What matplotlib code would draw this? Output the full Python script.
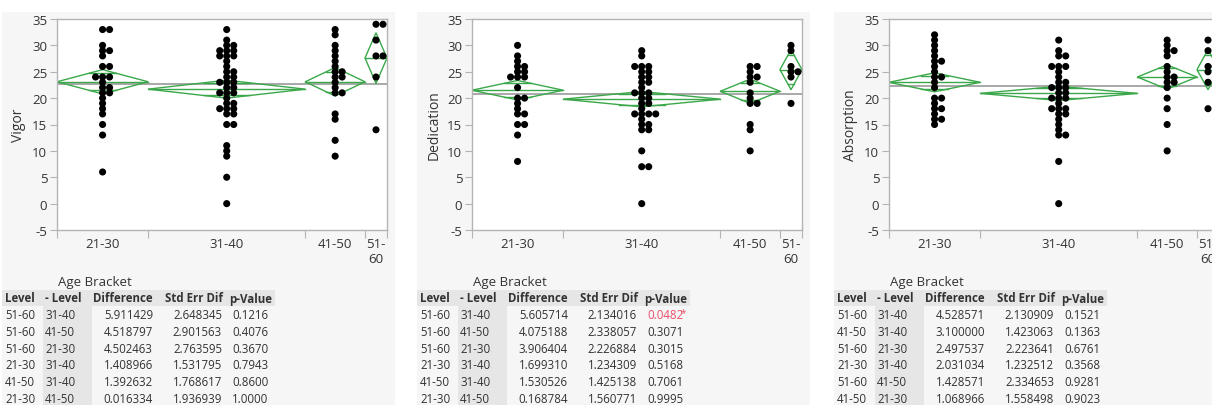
import numpy as np
import matplotlib.pyplot as plt
from matplotlib.patches import Polygon, Rectangle

plt.rcParams['font.family'] = ['Open Sans', 'DejaVu Sans']
plt.rcParams['axes.unicode_minus'] = False

W, H = 1212, 406

# ---- data ----
groups = ['21-30', '31-40', '41-50', '51-60']
group_labels = ['21-30', '31-40', '41-50', '51-\n60']
group_n = [29, 50, 19, 7]

vigor_pts = [
    [33, 33, 30, 29, 29, 28, 26, 26, 24, 24, 24, 23, 22, 22, 21, 21, 20, 19, 18, 17, 15, 13, 6],
    [33, 31, 30, 30, 29, 29, 29, 28, 28, 28, 27, 26, 25, 25, 24, 24, 23, 23, 23, 22, 22,
     21, 21, 21, 20, 19, 19, 18, 18, 18, 17, 17, 15, 15, 11, 10, 9, 5, 0],
    [33, 32, 30, 29, 28, 27, 26, 25, 25, 24, 24, 23, 22, 21, 21, 17, 16, 12, 9],
    [34, 34, 31, 28, 28, 24, 14],
]
vigor_means = [23.1, 21.7, 23.1, 27.6]
vigor_ci = [2.3, 1.7, 2.7, 4.8]
vigor_grand = 22.7

dedication_pts = [
    [30, 28, 27, 26, 26, 25, 25, 24, 24, 24, 22, 20, 20, 19, 18, 17, 17, 15, 15, 13, 8],
    [29, 28, 26, 26, 26, 25, 25, 24, 24, 23, 23, 22, 21, 21, 21, 20, 20, 19, 19, 18,
     17, 17, 17, 17, 16, 15, 15, 14, 14, 10, 7, 7, 0],
    [26, 26, 25, 24, 24, 23, 21, 20, 19, 19, 15, 14, 10],
    [30, 29, 26, 25, 25, 24, 19],
]
dedication_means = [21.5, 19.8, 21.3, 25.4]
dedication_ci = [1.85, 1.45, 2.3, 3.8]
dedication_grand = 20.8

absorption_pts = [
    [32, 31, 30, 29, 28, 27, 27, 26, 25, 24, 24, 23, 22, 20, 20, 19, 18, 18, 17, 16, 16, 15],
    [31, 29, 28, 28, 26, 26, 26, 25, 24, 23, 23, 22, 22, 22, 21, 21, 20, 20, 20, 19,
     18, 18, 18, 17, 17, 16, 15, 14, 13, 13, 8, 0],
    [31, 30, 29, 29, 28, 26, 25, 24, 24, 23, 23, 22, 20, 18, 15, 10],
    [31, 29, 26, 26, 25, 23, 18],
]
absorption_means = [23.0, 20.9, 24.0, 25.4]
absorption_ci = [1.8, 1.35, 2.3, 3.8]
absorption_grand = 22.3

vigor_level = ['51-60', '51-60', '51-60', '21-30', '41-50', '21-30']
vigor_minus = ['31-40', '41-50', '21-30', '31-40', '31-40', '41-50']
vigor_diff = [5.911429, 4.518797, 4.502463, 1.408966, 1.392632, 0.016334]
vigor_se = [2.648345, 2.901563, 2.763595, 1.531795, 1.768617, 1.936939]
vigor_p = [0.1216, 0.4076, 0.3670, 0.7943, 0.8600, 1.0000]

dedication_level = ['51-60', '51-60', '51-60', '21-30', '41-50', '21-30']
dedication_minus = ['31-40', '41-50', '21-30', '31-40', '31-40', '41-50']
dedication_diff = [5.605714, 4.075188, 3.906404, 1.699310, 1.530526, 0.168784]
dedication_se = [2.134016, 2.338057, 2.226884, 1.234309, 1.425138, 1.560771]
dedication_p = [0.0482, 0.3071, 0.3015, 0.5168, 0.7061, 0.9995]

absorption_level = ['51-60', '41-50', '51-60', '21-30', '51-60', '41-50']
absorption_minus = ['31-40', '31-40', '21-30', '31-40', '41-50', '21-30']
absorption_diff = [4.528571, 3.100000, 2.497537, 2.031034, 1.428571, 1.068966]
absorption_se = [2.130909, 1.423063, 2.223641, 1.232512, 2.334653, 1.558498]
absorption_p = [0.1521, 0.1363, 0.6761, 0.3568, 0.9281, 0.9023]

panels = [
    ('Vigor', vigor_pts, vigor_means, vigor_ci, vigor_grand,
     (vigor_level, vigor_minus, vigor_diff, vigor_se, vigor_p)),
    ('Dedication', dedication_pts, dedication_means, dedication_ci, dedication_grand,
     (dedication_level, dedication_minus, dedication_diff, dedication_se, dedication_p)),
    ('Absorption', absorption_pts, absorption_means, absorption_ci, absorption_grand,
     (absorption_level, absorption_minus, absorption_diff, absorption_se, absorption_p)),
]

# ---- layout (pixels) ----
panel_x = [0, 415, 832]
AX_L, AX_W, AX_T, AX_B = 57, 330, 20, 231
GREEN = '#3aa84a'
TXT = '#333333'
FRAME = '#b4b4b4'

fig = plt.figure(figsize=(W / 100, H / 100), dpi=100)
fig.patch.set_facecolor('white')


def fx(px):
    return px / W


def fy(py):
    return 1 - py / H


def swarm(vals, xc, px_x, px_y, step=7.0, min_d=5.0):
    # simple beeswarm: identical values get pushed sideways
    placed = []
    xs = []
    for v in vals:
        yp = v * px_y
        k = 0
        while True:
            off = ((k + 1) // 2) * (1 if k % 2 else -1) * step if k else 0.0
            if all(np.hypot(off - a, yp - b) >= min_d for a, b in placed):
                break
            k += 1
        placed.append((off, yp))
        xs.append(xc + off / px_x)
    return xs


ntot = sum(group_n)
bounds = np.concatenate([[0], np.cumsum(group_n)])
centers = (bounds[:-1] + bounds[1:]) / 2

for ox, (name, pts, means, ci, grand, table) in zip(panel_x, panels):
    # gray panel background
    fig.patches.append(Rectangle((fx(ox + 2), 0), fx(393), fy(13), transform=fig.transFigure,
                                 facecolor='#f6f6f6', edgecolor='none', zorder=-2))

    ax = fig.add_axes([fx(ox + AX_L), fy(AX_B), fx(AX_W), (AX_B - AX_T) / H])
    ax.set_zorder(2)
    ax.set_facecolor('white')
    ax.set_xlim(0, ntot)
    ax.set_ylim(-5, 35)
    px_x = AX_W / ntot
    px_y = (AX_B - AX_T) / 40

    ax.axhline(grand, color='#9a9a9a', lw=1.2, zorder=1)

    for i in range(len(groups)):
        x0, x1, xc = bounds[i], bounds[i + 1], centers[i]
        m, h = means[i], ci[i]
        ax.add_patch(Polygon([(x0, m), (xc, m + h), (x1, m), (xc, m - h)], closed=True,
                             fill=False, edgecolor=GREEN, lw=1.0, zorder=2))
        ax.plot([x0, x1], [m, m], color=GREEN, lw=1.0, zorder=2)
        d = h / np.sqrt(2)
        hw = (x1 - x0) / 2 * (1 - d / h)
        for s in (1, -1):
            ax.plot([xc - hw, xc + hw], [m + s * d, m + s * d], color=GREEN, lw=1.0, zorder=2)
        vals = sorted(pts[i], reverse=True)
        xs = swarm(vals, xc, px_x, px_y)
        ax.scatter(xs, vals, s=26, color='black', edgecolors='none', zorder=3)

    ax.set_yticks(range(-5, 36, 5))
    ax.set_xticks(bounds)
    ax.set_xticklabels([''] * len(bounds))
    ax.set_xticks(centers, minor=True)
    ax.set_xticklabels(group_labels, minor=True, fontsize=9.5, color=TXT)
    ax.tick_params(axis='x', which='major', length=6, color=FRAME)
    ax.tick_params(axis='x', which='minor', length=0, pad=5)
    ax.tick_params(axis='y', length=5, color=FRAME, labelsize=9.5, labelcolor=TXT, pad=2)
    for sp in ax.spines.values():
        sp.set_color(FRAME)
        sp.set_linewidth(1.0)
    ax.set_ylabel(name, fontsize=10, color=TXT, labelpad=4)

    # ---- comparison table ----
    fig.text(fx(ox + 58), fy(283), 'Age Bracket', fontsize=9.5, color=TXT, va='center')
    fig.patches.append(Rectangle((fx(ox + 2), fy(307)), fx(273), 16 / H, transform=fig.transFigure,
                                 facecolor='#e6e6e6', edgecolor='none', zorder=-1))
    fig.patches.append(Rectangle((fx(ox + 43), 0), fx(49), fy(307), transform=fig.transFigure,
                                 facecolor='#e6e6e6', edgecolor='none', zorder=-1))
    hy = fy(299)
    hkw = dict(fontsize=8.3, fontweight='bold', color=TXT, va='center')
    fig.text(fx(ox + 5), hy, 'Level', **hkw)
    fig.text(fx(ox + 45), hy, '- Level', **hkw)
    fig.text(fx(ox + 153), hy, 'Difference', ha='right', **hkw)
    fig.text(fx(ox + 223), hy, 'Std Err Dif', ha='right', **hkw)
    fig.text(fx(ox + 229), hy, 'p-Value', **hkw)

    level, minus, diff, se, pv = table
    rkw = dict(fontsize=8.3, color=TXT, va='center')
    for r in range(len(level)):
        ry = fy(315.5 + 16.8 * r)
        fig.text(fx(ox + 5), ry, level[r], **rkw)
        fig.text(fx(ox + 45), ry, minus[r], **rkw)
        fig.text(fx(ox + 153), ry, f'{diff[r]:.6f}', ha='right', **rkw)
        fig.text(fx(ox + 222), ry, f'{se[r]:.6f}', ha='right', **rkw)
        if pv[r] < 0.05:
            fig.text(fx(ox + 232), ry, f'{pv[r]:.4f}', fontsize=8.3, color='#e8506a', va='center')
            fig.text(fx(ox + 266), fy(313.5 + 16.8 * r), '*', fontsize=7, color='#e8506a', va='center')
        else:
            fig.text(fx(ox + 232), ry, f'{pv[r]:.4f}', **rkw)

fig.savefig('out.png', dpi=100)
